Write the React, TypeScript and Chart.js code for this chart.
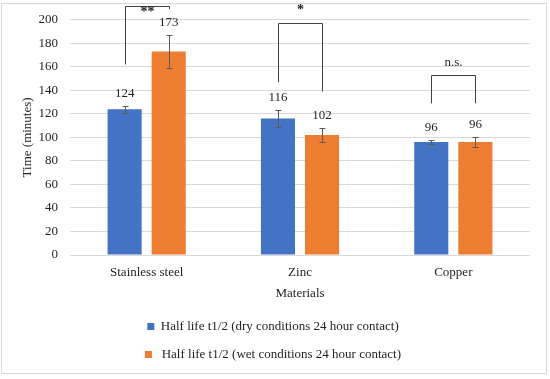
import React, { useEffect, useRef } from "react";
import { Chart, registerables } from "chart.js";

Chart.register(...registerables);

const categories = ["Stainless steel", "Zinc", "Copper"];
const dryValues = [124, 116, 96];
const dryErrors = [3, 7, 2];
const wetValues = [173, 102, 96];
const wetErrors = [14, 6, 4];
const seriesNames = [
  "Half life t1/2 (dry conditions 24 hour contact)",
  " Half life t1/2 (wet conditions 24 hour contact)",
];
const sigLabels = ["**", "*", "n.s."];
const bracketTop = [212, 197, 153];
const bracketLeftEnd = [162, 147, 129];
const bracketRightEnd = [209, 139, 129];
const sigLabelValue = [206, 208, 164];

const FONT = "'Liberation Serif', serif";
const TEXT = "#1f1f1f";

const overlayPlugin = {
  id: "overlay",
  afterDatasetsDraw(chart: any) {
    const ctx = chart.ctx;
    const y = chart.scales.y;
    const errs = [dryErrors, wetErrors];
    const vals = [dryValues, wetValues];
    ctx.save();
    for (let d = 0; d < 2; d++) {
      const meta = chart.getDatasetMeta(d);
      meta.data.forEach((bar: any, i: number) => {
        const v = vals[d][i];
        const e = errs[d][i];
        const yt = Math.round(y.getPixelForValue(v + e)) + 0.5;
        const yb = Math.round(y.getPixelForValue(v - e)) + 0.5;
        const x = Math.round(bar.x) + 0.5;
        ctx.strokeStyle = "#5a5a5a";
        ctx.lineWidth = 1;
        ctx.beginPath();
        ctx.moveTo(x, yt);
        ctx.lineTo(x, yb);
        ctx.moveTo(x - 3, yt);
        ctx.lineTo(x + 3, yt);
        ctx.moveTo(x - 3, yb);
        ctx.lineTo(x + 3, yb);
        ctx.stroke();
        ctx.fillStyle = TEXT;
        ctx.font = `13px ${FONT}`;
        ctx.textAlign = "center";
        ctx.textBaseline = "middle";
        ctx.fillText(String(v), bar.x, yt - 13);
      });
    }
    const m0 = chart.getDatasetMeta(0);
    const m1 = chart.getDatasetMeta(1);
    for (let i = 0; i < categories.length; i++) {
      const xl = Math.round(m0.data[i].x) + 0.5;
      const xr = Math.round(m1.data[i].x) + 0.5;
      const yt = Math.round(y.getPixelForValue(bracketTop[i])) + 0.5;
      const yl = y.getPixelForValue(bracketLeftEnd[i]);
      const yr = y.getPixelForValue(bracketRightEnd[i]);
      ctx.strokeStyle = "#404040";
      ctx.lineWidth = 1;
      ctx.beginPath();
      ctx.moveTo(xl, yl);
      ctx.lineTo(xl, yt);
      ctx.lineTo(xr, yt);
      ctx.lineTo(xr, yr);
      ctx.stroke();
      ctx.fillStyle = TEXT;
      ctx.font = sigLabels[i] === "n.s." ? `13px ${FONT}` : `bold 14px ${FONT}`;
      ctx.textAlign = "center";
      ctx.textBaseline = "middle";
      ctx.fillText(sigLabels[i], (xl + xr) / 2, y.getPixelForValue(sigLabelValue[i]));
    }
    ctx.restore();
  },
  afterDraw(chart: any) {
    const ctx = chart.ctx;
    ctx.save();
    ctx.strokeStyle = "#d9d9d9";
    ctx.lineWidth = 1;
    ctx.strokeRect(1.5, 3.5, 545, 370);
    ctx.restore();
  },
};

export default function App() {
  const ref = useRef<HTMLCanvasElement>(null);
  useEffect(() => {
    document.body.style.margin = "0";
    const chart = new Chart(ref.current!, {
      type: "bar",
      data: {
        labels: categories,
        datasets: [
          { label: seriesNames[0], data: dryValues, backgroundColor: "#4472C4" },
          { label: seriesNames[1], data: wetValues, backgroundColor: "#ED7D31" },
        ],
      },
      options: {
        animation: false,
        responsive: false,
        maintainAspectRatio: false,
        layout: { padding: { top: 12, right: 20, bottom: 8, left: 16 } },
        datasets: { bar: { barPercentage: 0.773, categoryPercentage: 0.575 } },
        scales: {
          y: {
            min: 0,
            max: 200,
            afterFit: (s: any) => { s.width = 54; },
            ticks: { stepSize: 20, font: { family: FONT, size: 13 }, color: TEXT, padding: 12 },
            grid: { color: "#d9d9d9", drawTicks: false },
            border: { display: false },
            title: { display: true, text: "Time (minutes)", font: { family: FONT, size: 13 }, color: TEXT, padding: 4 },
          },
          x: {
            afterFit: (s: any) => { s.height = 50; },
            ticks: { font: { family: FONT, size: 13 }, color: TEXT, padding: 10 },
            grid: { display: false, drawTicks: false },
            border: { display: false },
            title: { display: true, text: "Materials", font: { family: FONT, size: 13 }, color: TEXT, padding: { top: 4, bottom: 4 } },
          },
        },
        plugins: {
          legend: {
            position: "bottom",
            labels: {
              font: { family: FONT, size: 13 },
              color: TEXT,
              boxWidth: 7,
              boxHeight: 7,
              padding: 15,
            },
          },
          tooltip: { enabled: false },
        },
      },
      plugins: [overlayPlugin],
    });
    return () => chart.destroy();
  }, []);
  return (
    <div style={{ width: 550, height: 379 }}>
      <canvas ref={ref} width={550} height={379} style={{ display: "block" }} />
    </div>
  );
}
